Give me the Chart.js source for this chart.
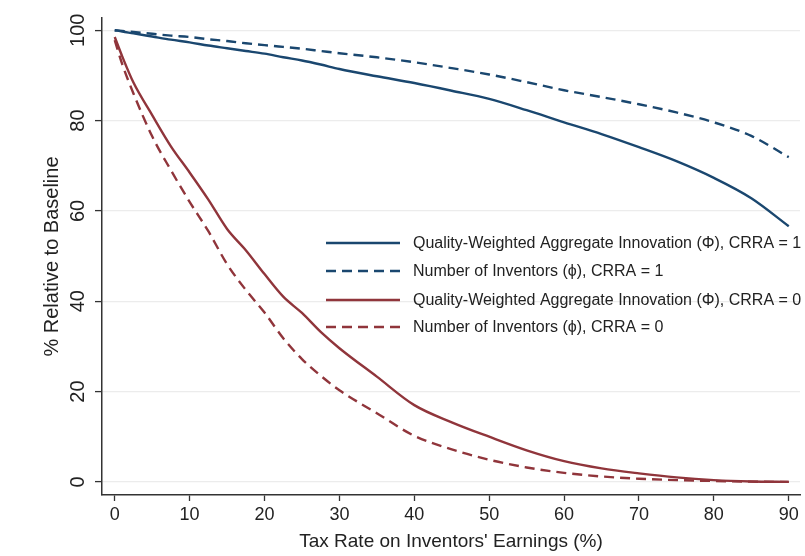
<!DOCTYPE html>
<html>
<head>
<meta charset="utf-8">
<script src="https://cdn.jsdelivr.net/npm/chart.js@4"></script>
<style>
  html, body { margin: 0; padding: 0; background: #fff; }
  #wrap { width: 805px; height: 556px; }
</style>
</head>
<body>
<div id="wrap"><canvas id="chart"></canvas></div>
<script>
// Tax rate on inventors' earnings (%)
const taxRate = [0, 1, 2.5, 5, 7.5, 10, 12.5, 15, 17.5, 20, 22.5, 25, 27.5, 30, 35, 40, 45, 50, 55, 60, 65, 70, 75, 80, 85, 90];

// % relative to baseline
const qualityCrra1 = [100, 99.7, 99.3, 98.6, 97.9, 97.3, 96.6, 96.0, 95.4, 94.8, 94.0, 93.3, 92.4, 91.4, 89.8, 88.3, 86.6, 84.8, 82.3, 79.6, 77.0, 74.1, 71.0, 67.3, 62.8, 56.6];
const inventorsCrra1 = [100, 99.85, 99.6, 99.2, 98.8, 98.5, 98.0, 97.6, 97.1, 96.7, 96.3, 95.9, 95.4, 94.9, 94.0, 92.9, 91.6, 90.2, 88.5, 86.7, 85.2, 83.6, 81.8, 79.6, 76.6, 71.9];
const qualityCrra0 = [98.5, 94.2, 88.4, 81.2, 74.3, 68.5, 62.5, 56.0, 51.3, 46.0, 41.0, 37.4, 33.2, 29.6, 23.3, 17.0, 13.2, 10.0, 7.0, 4.6, 3.0, 1.9, 1.0, 0.4, 0.1, 0.0];
const inventorsCrra0 = [97.8, 92.5, 86.0, 76.5, 69.0, 62.0, 55.5, 48.2, 42.5, 37.5, 31.8, 27.2, 23.5, 20.3, 15.2, 10.2, 7.2, 4.9, 3.2, 2.0, 1.2, 0.7, 0.4, 0.2, 0.05, 0.0];

const seriesLabels = [
  "Quality-Weighted Aggregate Innovation (\u03A6), CRRA = 1",
  "Number of Inventors (\u03D5), CRRA = 1",
  "Quality-Weighted Aggregate Innovation (\u03A6), CRRA = 0",
  "Number of Inventors (\u03D5), CRRA = 0",
];

const xTicks = [0, 10, 20, 30, 40, 50, 60, 70, 80, 90];
const yTicks = [0, 20, 40, 60, 80, 100];
const yTitle = "% Relative to Baseline";

const BLUE = "#1a476f";
const RED = "#90353b";
const AXIS = "#333333";
const TEXT = "#222222";
const FONT = "'Liberation Sans', Arial, sans-serif";

const points = (ys) => taxRate.map((x, i) => ({ x, y: ys[i] }));

function lineSet(label, ys, color, dashed) {
  return {
    label,
    data: points(ys),
    borderColor: color,
    backgroundColor: color,
    borderWidth: 2.4,
    borderDash: dashed ? [10, 6] : [],
    pointRadius: 0,
    cubicInterpolationMode: "monotone",
    fill: false,
  };
}

// Stata draws the y labels turned on their side; do that by hand
const yLabels = {
  id: "yLabels",
  afterDraw(chart) {
    const ctx = chart.ctx;
    const y = chart.scales.y;
    const area = chart.chartArea;
    ctx.save();
    ctx.fillStyle = TEXT;
    ctx.textAlign = "center";
    ctx.textBaseline = "middle";
    ctx.font = "20px " + FONT;
    y.ticks.forEach((t) => {
      ctx.save();
      ctx.translate(77, y.getPixelForValue(t.value));
      ctx.rotate(-Math.PI / 2);
      ctx.fillText(String(t.value), 0, 1);
      ctx.restore();
    });
    ctx.translate(52, (area.top + area.bottom) / 2);
    ctx.rotate(-Math.PI / 2);
    ctx.fillText(yTitle, 0, 0);
    ctx.restore();
  },
};

// legend box sitting inside the plot region
const insideLegend = {
  id: "insideLegend",
  afterDraw(chart) {
    const ctx = chart.ctx;
    const rows = [243, 271, 300, 327];
    ctx.save();
    ctx.font = "16px " + FONT;
    ctx.textBaseline = "middle";
    ctx.fillStyle = TEXT;
    chart.data.datasets.forEach((ds, i) => {
      const y = rows[i];
      ctx.strokeStyle = ds.borderColor;
      ctx.lineWidth = ds.borderWidth;
      ctx.setLineDash(ds.borderDash);
      ctx.beginPath();
      ctx.moveTo(326, y);
      ctx.lineTo(400, y);
      ctx.stroke();
      ctx.setLineDash([]);
      ctx.fillText(ds.label, 413, y + 1);
    });
    ctx.restore();
  },
};

new Chart(document.getElementById("chart"), {
  type: "line",
  data: {
    datasets: [
      lineSet(seriesLabels[0], qualityCrra1, BLUE, false),
      lineSet(seriesLabels[1], inventorsCrra1, BLUE, true),
      lineSet(seriesLabels[2], qualityCrra0, RED, false),
      lineSet(seriesLabels[3], inventorsCrra0, RED, true),
    ],
  },
  options: {
    responsive: true,
    maintainAspectRatio: false,
    animation: false,
    layout: { padding: { top: 18, right: 5, left: 0, bottom: 0 } },
    plugins: { legend: { display: false }, tooltip: { enabled: false } },
    scales: {
      x: {
        type: "linear",
        min: -1.7,
        max: 91.5,
        afterBuildTicks: (s) => { s.ticks = xTicks.map((v) => ({ value: v })); },
        afterFit: (s) => { s.height = 61; },
        grid: { drawOnChartArea: false, tickLength: 6, tickColor: AXIS, tickWidth: 1.3 },
        border: { color: AXIS, width: 1.5 },
        ticks: { color: TEXT, font: { family: FONT, size: 18 }, padding: 3, maxRotation: 0 },
        title: {
          display: true,
          text: "Tax Rate on Inventors' Earnings (%)",
          color: TEXT,
          font: { family: FONT, size: 19 },
          padding: { top: 0, bottom: 2.5 },
        },
      },
      y: {
        type: "linear",
        min: -2.9,
        max: 102.7,
        afterBuildTicks: (s) => { s.ticks = yTicks.map((v) => ({ value: v })); },
        afterFit: (s) => { s.width = 102; },
        grid: { color: "#ececec", lineWidth: 1.2, tickLength: 7, tickColor: AXIS, tickWidth: 1.3 },
        border: { color: AXIS, width: 1.5 },
        ticks: { display: false },
      },
    },
  },
  plugins: [yLabels, insideLegend],
});
</script>
</body>
</html>
